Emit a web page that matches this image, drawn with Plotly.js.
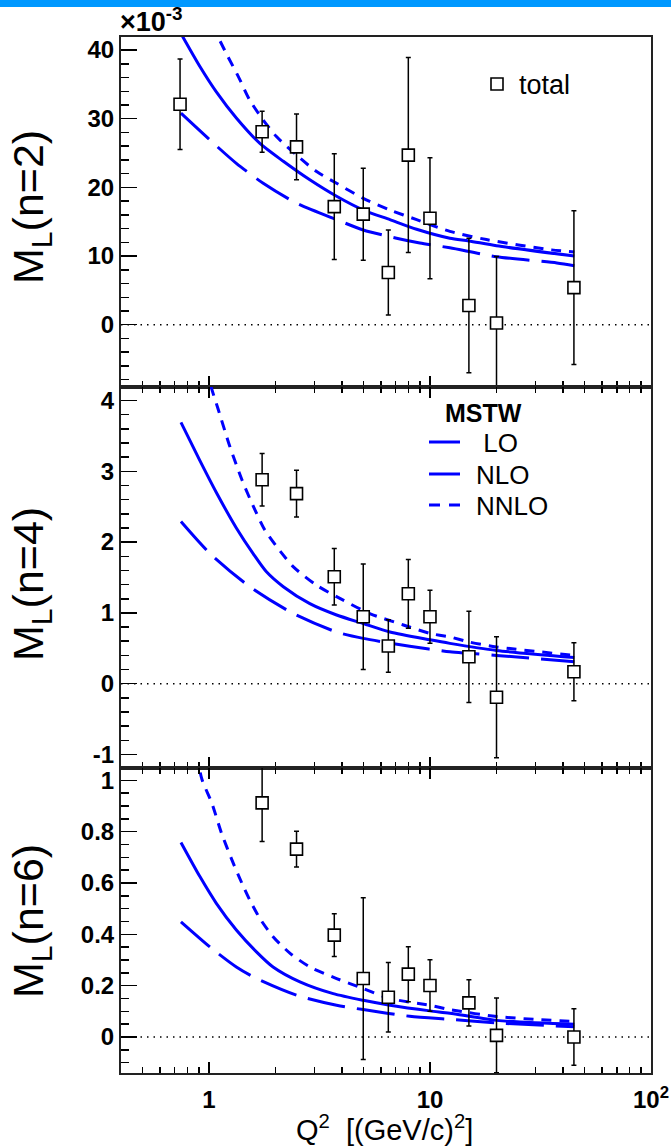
<!DOCTYPE html>
<html>
<head>
<meta charset="utf-8">
<script src="https://cdn.plot.ly/plotly-3.0.1.min.js"></script>
<style>html,body{margin:0;padding:0;background:#fff;}#chart{width:671px;height:1148px;}</style>
</head>
<body>
<div id="chart"></div>
<script>
// ---------- data ----------
// measured points
const q2Points = [0.74, 1.74, 2.49, 3.69, 4.99, 6.48, 7.98, 10.0, 15.0, 20.0, 44.8];
// n=2 moments, in units of 1e-3
const ml2 = [32.1, 28.1, 25.9, 17.2, 16.1, 7.6, 24.7, 15.5, 2.8, 0.24, 5.4];
const ml2Err = [6.6, 3.0, 4.8, 7.7, 6.7, 6.2, 14.2, 8.8, 9.8, 9.7, 11.2];
// n=4 and n=6 (no point at the lowest Q2)
const q2Points46 = [1.74, 2.49, 3.69, 4.99, 6.48, 7.98, 10.0, 15.0, 20.0, 44.8];
const ml4 = [2.88, 2.685, 1.51, 0.945, 0.533, 1.27, 0.945, 0.38, -0.19, 0.17];
const ml4Err = [0.37, 0.33, 0.40, 0.745, 0.37, 0.485, 0.375, 0.645, 0.855, 0.41];
const ml6 = [0.912, 0.732, 0.397, 0.228, 0.155, 0.245, 0.201, 0.133, 0.0065, 0.0];
const ml6Err = [0.15, 0.07, 0.083, 0.315, 0.135, 0.107, 0.10, 0.09, 0.146, 0.11];

// MSTW curves, n=2 (x1e-3)
const lo2Q = [0.747, 1.01, 1.33, 1.76, 2.49, 3.78, 4.99, 7.06, 9.0, 12.3, 20, 37.5, 45];
const lo2 = [30.8, 26.9, 23.5, 20.6, 17.7, 15.3, 13.8, 12.6, 11.9, 11.2, 9.9, 9.0, 8.6];
const nlo2Q = [0.747, 0.91, 1.08, 1.33, 1.70, 2.17, 2.86, 3.78, 4.99, 6.59, 8.7, 12.3, 15, 20, 45];
const nlo2 = [42.4, 37.6, 33.9, 30.1, 26.4, 23.8, 21.1, 18.7, 16.7, 15.3, 13.9, 12.6, 12.2, 11.5, 10.0];
const nnlo2Q = [0.9, 1.0, 1.10, 1.22, 1.36, 1.53, 1.76, 2.02, 2.49, 3.07, 3.78, 4.99, 6.59, 8.7, 12.3, 18, 35.5, 45];
const nnlo2 = [48.5, 44.8, 41.9, 39.0, 36.1, 32.7, 29.8, 27.4, 24.7, 22.3, 20.6, 18.4, 16.7, 15.3, 13.6, 12.4, 10.9, 10.6];

// MSTW curves, n=4
const lo4Q = [0.747, 1.01, 1.53, 2.41, 3.78, 4.99, 8.1, 12.3, 15, 20, 45];
const lo4 = [2.29, 1.84, 1.37, 0.99, 0.73, 0.64, 0.53, 0.45, 0.43, 0.40, 0.31];
const nlo4Q = [0.747, 0.91, 1.08, 1.33, 1.59, 1.82, 2.17, 2.86, 3.78, 4.99, 6.59, 10, 12.3, 20, 45];
const nlo4 = [3.69, 3.15, 2.70, 2.20, 1.83, 1.58, 1.37, 1.13, 0.97, 0.85, 0.73, 0.62, 0.57, 0.47, 0.37];
const nnlo4Q = [0.98, 1.03, 1.10, 1.24, 1.41, 1.59, 1.79, 2.02, 2.41, 3.07, 4.05, 5.34, 7.58, 10, 12.3, 15, 20, 45];
const nnlo4 = [4.45, 4.16, 3.88, 3.36, 2.88, 2.50, 2.17, 1.94, 1.65, 1.39, 1.18, 0.99, 0.83, 0.71, 0.66, 0.59, 0.52, 0.40];

// MSTW curves, n=6
const lo6Q = [0.747, 1.03, 1.33, 1.64, 2.49, 3.78, 4.99, 8.1, 12.3, 20, 45];
const lo6 = [0.449, 0.345, 0.273, 0.228, 0.163, 0.124, 0.107, 0.081, 0.069, 0.055, 0.040];
const nlo6Q = [0.747, 0.91, 1.08, 1.33, 1.64, 1.95, 2.58, 3.65, 4.99, 6.59, 10, 12.3, 20, 45];
const nlo6 = [0.758, 0.625, 0.521, 0.417, 0.332, 0.273, 0.215, 0.169, 0.143, 0.124, 0.102, 0.093, 0.065, 0.050];
const nnlo6Q = [0.88, 0.93, 1.03, 1.14, 1.27, 1.41, 1.53, 1.70, 1.95, 2.33, 2.86, 3.78, 4.99, 6.59, 10, 12.3, 20, 45];
const nnlo6 = [1.10, 1.003, 0.912, 0.794, 0.690, 0.599, 0.534, 0.462, 0.391, 0.326, 0.273, 0.228, 0.189, 0.150, 0.124, 0.107, 0.080, 0.060];

// tick labels
const xTickVals = [1, 10, 100];
const xTickText = ['1', '10', '10<sup>2</sup>'];
const y1TickVals = [0, 10, 20, 30, 40];
const y1TickText = ['0', '10', '20', '30', '40'];
const y2TickVals = [-1, 0, 1, 2, 3, 4];
const y2TickText = ['-1', '0', '1', '2', '3', '4'];
const y3TickVals = [0, 0.2, 0.4, 0.6, 0.8, 1];
const y3TickText = ['0', '0.2', '0.4', '0.6', '0.8', '1'];
const yTitles = ['M<sub>L</sub>(n=2)', 'M<sub>L</sub>(n=4)', 'M<sub>L</sub>(n=6)'];
const legendLabels = [' LO', 'NLO', 'NNLO'];

// ---------- styling ----------
const BLUE = '#0000ff';
const FONT = 'Liberation Sans, Arial, Helvetica, sans-serif';
const dashLO = '38px,12px';
const dashNNLO = '10px,8px';

function curve(x, y, xa, ya, dash) {
  return {x: x, y: y, xaxis: xa, yaxis: ya, type: 'scatter', mode: 'lines',
    line: {color: BLUE, width: 3, dash: dash, shape: 'spline', smoothing: 0.7},
    hoverinfo: 'skip', showlegend: false};
}
function points(x, y, err, xa, ya) {
  return {x: x, y: y, xaxis: xa, yaxis: ya, type: 'scatter', mode: 'markers',
    marker: {symbol: 'square', size: 12, color: '#ffffff', line: {color: '#000', width: 1.6}},
    error_y: {type: 'data', array: err, visible: true, color: '#000', thickness: 1.5, width: 2.5},
    cliponaxis: true, showlegend: false};
}

const traces = [
  curve(lo2Q, lo2, 'x', 'y', dashLO), curve(nlo2Q, nlo2, 'x', 'y', 'solid'), curve(nnlo2Q, nnlo2, 'x', 'y', dashNNLO),
  points(q2Points, ml2, ml2Err, 'x', 'y'),
  curve(lo4Q, lo4, 'x2', 'y2', dashLO), curve(nlo4Q, nlo4, 'x2', 'y2', 'solid'), curve(nnlo4Q, nnlo4, 'x2', 'y2', dashNNLO),
  points(q2Points46, ml4, ml4Err, 'x2', 'y2'),
  curve(lo6Q, lo6, 'x3', 'y3', dashLO), curve(nlo6Q, nlo6, 'x3', 'y3', 'solid'), curve(nnlo6Q, nnlo6, 'x3', 'y3', dashNNLO),
  points(q2Points46, ml6, ml6Err, 'x3', 'y3')
];

// minor x ticks: 2..9 per decade
const xMinor = [];
[0.1, 1, 10].forEach(d => { for (let k = 2; k <= 9; k++) { const v = k * d; if (v >= 0.4 && v < 100) xMinor.push(+(v.toFixed(2))); } });

function tickFont() { return {family: FONT, size: 24, color: '#000', weight: 'bold'}; }
function xAxis(anchor, showLabels, mirror) {
  return {type: 'log', range: [Math.log10(0.4), 2], domain: [0, 1], anchor: anchor,
    tickmode: 'array', tickvals: xTickVals, ticktext: xTickText,
    ticks: 'inside', ticklen: 11, tickwidth: 1.5, tickcolor: '#000',
    minor: {tickmode: 'array', tickvals: xMinor, ticks: 'inside', ticklen: 6, tickwidth: 1.5, tickcolor: '#000'},
    showticklabels: showLabels, tickfont: tickFont(), ticklabelstandoff: 4,
    showline: true, linewidth: 2, linecolor: '#222', mirror: mirror,
    showgrid: false, zeroline: false, fixedrange: true};
}
function yAxis(anchor, domain, range, vals, text, minorStep) {
  return {domain: domain, range: range, anchor: anchor,
    tickmode: 'array', tickvals: vals, ticktext: text,
    ticks: 'inside', ticklen: 16, tickwidth: 1.5, tickcolor: '#000',
    minor: {dtick: minorStep, tick0: 0, ticks: 'inside', ticklen: 8, tickwidth: 1.5, tickcolor: '#000'},
    tickfont: tickFont(), ticklabelstandoff: 0,
    showline: true, linewidth: 2, linecolor: '#222', mirror: true,
    showgrid: false, zeroline: false, fixedrange: true};
}

// plot frame geometry (pixels) -> paper helpers
const L = 121, R = 651, T = 37, B = 1073;
const px = v => (v - L) / (R - L);
const py = v => (B - v) / (B - T);

const d3 = [0, py(768)], d2 = [py(768), py(387)], d1 = [py(387), 1];

const shapes = [
  // top blue band
  {type: 'rect', xref: 'paper', yref: 'paper', x0: px(-5), x1: px(680), y0: py(7), y1: py(-5), fillcolor: '#0098ff', line: {width: 0}, layer: 'above'},
  // dotted zero lines
  {type: 'line', xref: 'x domain', yref: 'y', x0: 0, x1: 1, y0: 0, y1: 0, line: {color: '#000', width: 1.5, dash: '1.5px,5px'}, layer: 'below'},
  {type: 'line', xref: 'x2 domain', yref: 'y2', x0: 0, x1: 1, y0: 0, y1: 0, line: {color: '#000', width: 1.5, dash: '1.5px,5px'}, layer: 'below'},
  {type: 'line', xref: 'x3 domain', yref: 'y3', x0: 0, x1: 1, y0: 0, y1: 0, line: {color: '#000', width: 1.5, dash: '1.5px,5px'}, layer: 'below'},
  // legend "total" marker
  {type: 'rect', xref: 'paper', yref: 'paper', x0: px(491), x1: px(503), y0: py(90), y1: py(78), fillcolor: '#fff', line: {color: '#000', width: 1.6}},
  // MSTW legend samples
  {type: 'line', xref: 'paper', yref: 'paper', x0: px(429), x1: px(460), y0: py(442), y1: py(442), line: {color: BLUE, width: 3}},
  {type: 'line', xref: 'paper', yref: 'paper', x0: px(429), x1: px(460), y0: py(474), y1: py(474), line: {color: BLUE, width: 3}},
  {type: 'line', xref: 'paper', yref: 'paper', x0: px(429), x1: px(460), y0: py(505), y1: py(505), line: {color: BLUE, width: 3, dash: '11px,9px'}}
];

const annotations = [
  {xref: 'paper', yref: 'paper', x: px(118), y: py(39), xanchor: 'left', yanchor: 'bottom', showarrow: false,
    text: '×10<sup>-3</sup>', font: {family: FONT, size: 27, color: '#000', weight: 'bold'}},
  {xref: 'paper', yref: 'paper', x: px(31), y: py(207), xanchor: 'center', yanchor: 'middle', textangle: -90, showarrow: false,
    text: yTitles[0], font: {family: FONT, size: 43, color: '#000'}},
  {xref: 'paper', yref: 'paper', x: px(31), y: py(584), xanchor: 'center', yanchor: 'middle', textangle: -90, showarrow: false,
    text: yTitles[1], font: {family: FONT, size: 43, color: '#000'}},
  {xref: 'paper', yref: 'paper', x: px(31), y: py(921), xanchor: 'center', yanchor: 'middle', textangle: -90, showarrow: false,
    text: yTitles[2], font: {family: FONT, size: 43, color: '#000'}},
  {xref: 'paper', yref: 'paper', x: px(384), y: py(1128), xanchor: 'center', yanchor: 'middle', showarrow: false,
    text: 'Q<sup>2</sup>\u00a0\u00a0[(GeV/c)<sup>2</sup>]', font: {family: FONT, size: 29, color: '#000'}},
  {xref: 'paper', yref: 'paper', x: px(517), y: py(85), xanchor: 'left', yanchor: 'middle', showarrow: false,
    text: 'total', font: {family: FONT, size: 27, color: '#000'}},
  {xref: 'paper', yref: 'paper', x: px(483), y: py(413), xanchor: 'center', yanchor: 'middle', showarrow: false,
    text: 'MSTW', font: {family: FONT, size: 25, color: '#000', weight: 'bold'}},
  {xref: 'paper', yref: 'paper', x: px(474), y: py(443), xanchor: 'left', yanchor: 'middle', showarrow: false,
    text: '\u00a0' + legendLabels[0].trim(), font: {family: FONT, size: 26, color: '#000'}},
  {xref: 'paper', yref: 'paper', x: px(474), y: py(475), xanchor: 'left', yanchor: 'middle', showarrow: false,
    text: legendLabels[1], font: {family: FONT, size: 26, color: '#000'}},
  {xref: 'paper', yref: 'paper', x: px(474), y: py(506), xanchor: 'left', yanchor: 'middle', showarrow: false,
    text: legendLabels[2], font: {family: FONT, size: 26, color: '#000'}}
];

const layout = {
  width: 671, height: 1148,
  margin: {l: L, r: 671 - R, t: T, b: 1148 - B, autoexpand: false},
  paper_bgcolor: '#fff', plot_bgcolor: '#fff',
  showlegend: false,
  font: {family: FONT, color: '#000'},
  xaxis: xAxis('y', false, true),
  xaxis2: xAxis('y2', false, 'ticks'),
  xaxis3: xAxis('y3', true, 'ticks'),
  yaxis: yAxis('x', d1, [-9.07, 41.9], y1TickVals, y1TickText, 2),
  yaxis2: yAxis('x2', d2, [-1.19, 4.19], y2TickVals, y2TickText, 0.2),
  yaxis3: yAxis('x3', d3, [-0.14, 1.048], y3TickVals, y3TickText, 0.05),
  shapes: shapes,
  annotations: annotations
};

Plotly.newPlot('chart', traces, layout, {staticPlot: true, displayModeBar: false});
</script>
</body>
</html>
